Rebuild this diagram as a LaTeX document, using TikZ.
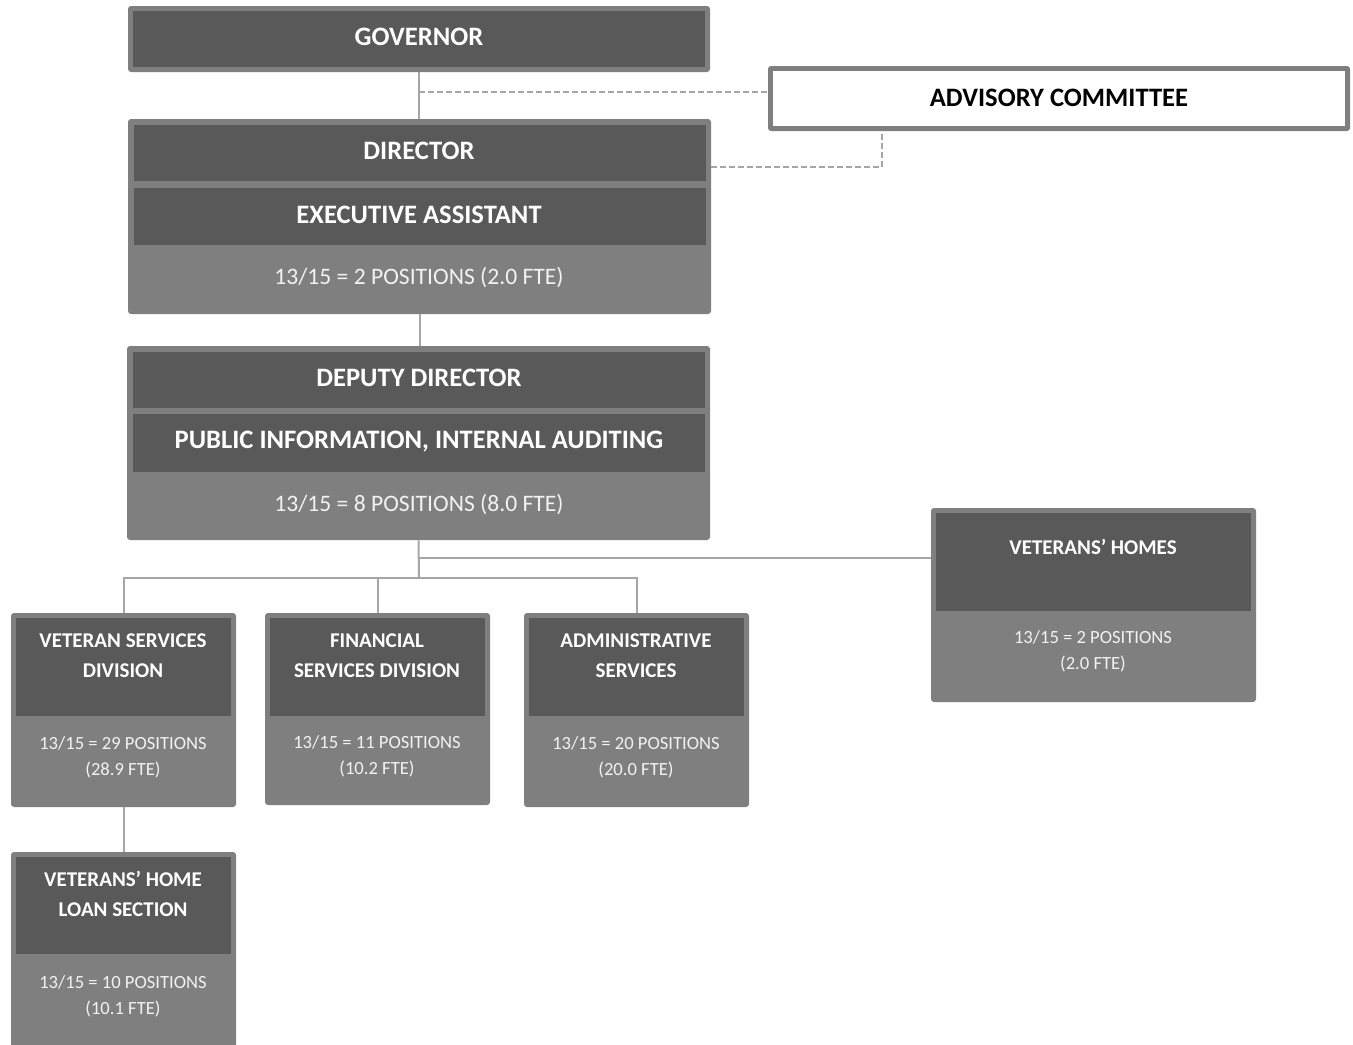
\documentclass[tikz,border=0pt]{standalone}
\usepackage{fontspec}
\setmainfont{Carlito}
\usepackage{tikz}
\usetikzlibrary{fit}
\definecolor{headgray}{HTML}{595959}
\definecolor{boxgray}{HTML}{7F7F7F}
\definecolor{linegray}{HTML}{A6A6A6}
\definecolor{postext}{HTML}{F2F2F2}

\begin{document}
\begin{tikzpicture}[x=0.5pt,y=-0.5pt]
  \tikzset{OUTER/.style={fill=boxgray, rounded corners=1.5pt, inner sep=0pt}}
  \tikzset{HEAD/.style={fill=headgray, inner sep=0pt}}
  \tikzset{BIG/.style={text=white, font=\fontsize{13.3}{15}\selectfont\bfseries}}
  \tikzset{POS/.style={text=postext, font=\fontsize{11.8}{14}\selectfont}}
  \tikzset{SHEAD/.style={text=white, align=center, font=\fontsize{10.5}{15}\selectfont\bfseries}}
  \tikzset{SPOS/.style={text=postext, align=center, font=\fontsize{9.3}{13}\selectfont}}
  \tikzset{CONN/.style={draw=linegray, line width=1pt}}
  \tikzset{DASH/.style={draw=linegray, line width=0.8pt, dash pattern=on 3pt off 1.5pt}}

  \useasboundingbox (0,0) rectangle (1353,1044);

  % top boxes
  \node[OUTER, fit={(128,6)(710,72)}] (gov) {};
  \node[HEAD, fit={(133,11)(705,67)}] (govhead) {};
  \node[BIG] (govtxt) at (419,37) {GOVERNOR};

  \node[OUTER, fit={(768,66)(1350,131)}] (adv) {};
  \node[fill=white, inner sep=0pt, fit={(773,71)(1345,126)}] (advin) {};
  \node[BIG, text=black] (advtxt) at (1059,98) {ADVISORY COMMITTEE};

  \node[OUTER, fit={(128,119)(711,314)}] (dir) {};
  \node[HEAD, fit={(134,125)(706,181)}] (dirhead) {};
  \node[HEAD, fit={(134,188)(706,245)}] (exehead) {};
  \node[BIG] (dirtxt) at (419,151) {DIRECTOR};
  \node[BIG] (exetxt) at (419,215) {EXECUTIVE ASSISTANT};
  \node[POS] (dirpos) at (419,278) {13/15 = 2 POSITIONS (2.0 FTE)};

  \node[OUTER, fit={(127,346)(710,540)}] (dep) {};
  \node[HEAD, fit={(133,352)(705,408)}] (dephead) {};
  \node[HEAD, fit={(133,414)(705,472)}] (pubhead) {};
  \node[BIG] (deptxt) at (419,378) {DEPUTY DIRECTOR};
  \node[BIG] (pubtxt) at (419,442) {PUBLIC INFORMATION, INTERNAL AUDITING};
  \node[POS] (deppos) at (419,504) {13/15 = 8 POSITIONS (8.0 FTE)};

  % divisions
  \node[OUTER, fit={(11,613)(236,807)}] (vsd) {};
  \node[HEAD, fit={(16,618)(231,716)}] (vsdhead) {};
  \node[SHEAD] (vsdtxt) at (123,656) {VETERAN SERVICES\\DIVISION};
  \node[SPOS] (vsdpos) at (123,757) {13/15 = 29 POSITIONS\\(28.9 FTE)};

  \node[OUTER, fit={(265,613)(490,805)}] (fsd) {};
  \node[HEAD, fit={(270,618)(485,716)}] (fsdhead) {};
  \node[SHEAD] (fsdtxt) at (377,656) {FINANCIAL\\SERVICES DIVISION};
  \node[SPOS] (fsdpos) at (377,756) {13/15 = 11 POSITIONS\\(10.2 FTE)};

  \node[OUTER, fit={(524,613)(749,807)}] (adm) {};
  \node[HEAD, fit={(529,618)(744,716)}] (admhead) {};
  \node[SHEAD] (admtxt) at (636,656) {ADMINISTRATIVE\\SERVICES};
  \node[SPOS] (admpos) at (636,757) {13/15 = 20 POSITIONS\\(20.0 FTE)};

  \node[OUTER, fit={(931,508)(1256,702)}] (homes) {};
  \node[HEAD, fit={(936,513)(1251,611)}] (homeshead) {};
  \node[SHEAD] (homestxt) at (1093,547) {VETERANS’ HOMES};
  \node[SPOS] (homespos) at (1093,651) {13/15 = 2 POSITIONS\\(2.0 FTE)};

  \node[OUTER, fit={(11,852)(236,1060)}] (loan) {};
  \node[HEAD, fit={(16,857)(231,954)}] (loanhead) {};
  \node[SHEAD] (loantxt) at (123,894) {VETERANS’ HOME\\LOAN SECTION};
  \node[SPOS] (loanpos) at (123,996) {13/15 = 10 POSITIONS\\(10.1 FTE)};

  % connectors
  \coordinate (gdash) at (419,92);
  \coordinate (ddash) at (711,167);
  \coordinate (adash) at (882,131);
  \coordinate (bus) at (419,578);
  \coordinate (hbus) at (419,558);

  \draw[CONN] (gov.south) -- (gov.south |- dir.north);
  \draw[CONN] (dir.south) -- (dir.south |- dep.north);
  \draw[DASH] (gdash) -- (gdash -| adv.west);
  \draw[DASH] (ddash) -| (adash);
  \draw[CONN] (dep.south) -- (bus);
  \draw[CONN] (hbus) -- (hbus -| homes.west);
  \draw[CONN] (vsd.north) |- (bus) -| (adm.north);
  \draw[CONN] (fsd.north) -- (fsd.north |- bus);
  \draw[CONN] (vsd.south) -- (vsd.south |- loan.north);
\end{tikzpicture}
\end{document}
